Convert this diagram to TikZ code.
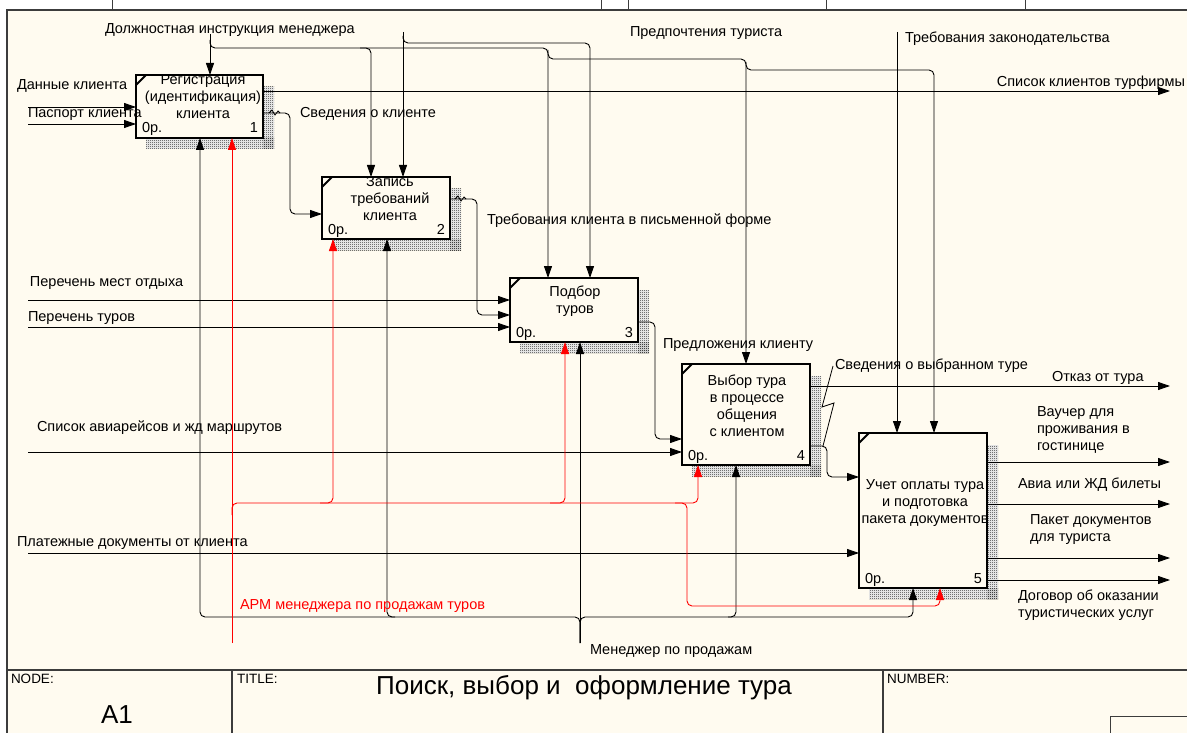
\documentclass[tikz,border=0pt]{standalone}
\usepackage{fontspec}
\setmainfont{Liberation Sans}
\usetikzlibrary{arrows.meta,patterns}

% fine checkerboard used for the drop shadows of the activity boxes
\pgfdeclarepatternformonly{finechecker}{\pgfqpoint{0pt}{0pt}}{\pgfqpoint{2pt}{2pt}}{\pgfqpoint{2pt}{2pt}}{%
  \pgfpathrectangle{\pgfqpoint{0pt}{0pt}}{\pgfqpoint{1pt}{1pt}}%
  \pgfpathrectangle{\pgfqpoint{1pt}{1pt}}{\pgfqpoint{1pt}{1pt}}%
  \pgfusepath{fill}}

\definecolor{paper}{RGB}{255,251,240}
\definecolor{rulec}{RGB}{60,60,60}

% activity box: name, x, y (top left), width, height, number
\newcommand\actbox[6]{%
  \fill[white] ({#2+#4},{#3+12}) rectangle ({#2+#4+11},{#3+#5+11});
  \fill[white] ({#2+10},{#3+#5}) rectangle ({#2+#4+11},{#3+#5+11});
  \fill[shadowfill] ({#2+#4},{#3+12}) rectangle ({#2+#4+11},{#3+#5+11});
  \fill[shadowfill] ({#2+10},{#3+#5}) rectangle ({#2+#4+11},{#3+#5+11});
  \node[act, minimum width=#4pt, minimum height=#5pt] (#1) at (#2,#3) {};
  \node[anchor=base west] (#1z) at ([xshift=6pt,yshift=5pt]#1.south west) {0р.};
  \node[anchor=base east] (#1n) at ([xshift=-5pt,yshift=5pt]#1.south east) {#6};
}
% border and corner mark drawn over the box text
\newcommand\actborder[1]{%
  \draw[line width=2.4pt] (#1.north west) rectangle (#1.south east);
  \draw[line width=2pt] ([yshift=-10pt]#1.north west) -- ([xshift=10pt]#1.north west);
}

\begin{document}
\begin{tikzpicture}[x=1pt,y=-1pt,
  every node/.style={inner sep=0pt, outer sep=0pt, font=\fontsize{14.5}{17}\selectfont},
  lbl/.style={anchor=west, align=left},
  act/.style={draw, line width=2.4pt, fill=paper, anchor=north west},
  acttext/.style={align=center},
  shadowfill/.style={pattern=finechecker, pattern color=black!85},
  wire/.style={line width=0.9pt, rounded corners=5pt},
  flow/.style={wire, -{Triangle[length=12pt,width=8pt]}},
  redflow/.style={flow, red},
  tbl/.style={font=\fontsize{13.5}{15}\selectfont, anchor=north west},
  big/.style={font=\fontsize{26}{28}\selectfont},
]
\useasboundingbox (0,0) rectangle (1187,733);
\fill[white] (0,0) rectangle (1187,733);
\fill[paper] (7,10) rectangle (1187,733);

% ---- frame ----
\draw[rulec, line width=1.2pt] (7,733) -- (7,10) -- (1187,10);
\foreach \t in {112,601,628,826,1025} \draw[rulec, line width=1pt] (\t,0) -- (\t,10);
\draw[rulec, line width=1.2pt] (7,670) -- (1187,670);
\draw[rulec, line width=1.2pt] (232,670) -- (232,733);
\draw[rulec, line width=1.2pt] (883,670) -- (883,733);
\draw[rulec, line width=1pt] (1110,733) -- (1110,716) -- (1187,716);
\node[tbl] (nodelbl) at (11,674) {NODE:};
\node[tbl] (titlelbl) at (237,674) {TITLE:};
\node[tbl] (numlbl) at (887,674) {NUMBER:};
\node[big] (nodeid) at (117,715) {A1};
\node[big] (title) at (584,688) {Поиск, выбор и\ \ оформление тура};

% ---- activity boxes ----
\actbox{b1}{136}{75}{127}{63}{1}
\actbox{b2}{322}{177}{128}{62}{2}
\actbox{b3}{510}{278}{128}{64}{3}
\actbox{b4}{682}{364}{128}{101}{4}
\actbox{b5}{859}{433}{128}{155}{5}

\node[acttext] (t1) at (203,97) {Регистрация\\(идентификация)\\клиента};
\node[acttext] (t2) at (390,199) {Запись\\требований\\клиента};
\node[acttext] (t3) at (575,301) {Подбор\\туров};
\node[acttext] (t4) at (747,405.5) {Выбор тура\\в процессе\\общения\\с клиентом};
\node[acttext] (t5) at (925,503) {Учет оплаты тура\\и подготовка\\пакета документов};

\foreach \b in {b1,b2,b3,b4,b5} {\actborder{\b}}

% ---- controls ----
\draw[flow] (210,34) -- (210,0 |- b1.north);
\draw[flow] (210,40) |- (371,48) -- (371,0 |- b2.north);
\draw[flow] (360,48) -| (548,0 |- b3.north);
\draw[flow] (548,50) |- (746,59) -- (746,0 |- b4.north);
\draw[flow] (746,62) |- (934,70) -- (934,0 |- b5.north);
\draw[flow] (403,32) -- (403,0 |- b2.north);
\draw[flow] (403,36) |- (590,43) -- (590,0 |- b3.north);
\draw[flow] (897,32) -- (897,0 |- b5.north);

% ---- inputs ----
\draw[flow] (28,107) -- (b1.west |- 0,107);
\draw[flow] (28,124) -- (b1.west |- 0,124);
\draw[flow] (28,300) -- (b3.west |- 0,300);
\draw[flow] (28,327) -- (b3.west |- 0,327);
\draw[flow] (28,452) -- (b4.west |- 0,452);
\draw[flow] (28,553) -- (b5.west |- 0,553);

% ---- outputs and links between boxes ----
\draw[flow] (b1.east |- 0,91) -- (1170,91);
\draw[flow] (b1.east |- 0,113) -| (290,214) -- (b2.west |- 0,214);
\draw[flow] (b2.east |- 0,199) -| (477,315) -- (b3.west |- 0,315);
\draw[flow] (b3.east |- 0,322) -| (655,439) -- (b4.west |- 0,439);
\draw[flow] (b4.east |- 0,386) -- (1170,386);
\draw[flow] (b4.east |- 0,446) -| (827,477) -- (b5.west |- 0,477);
\draw[flow] (b5.east |- 0,462) -- (1170,462);
\draw[flow] (b5.east |- 0,504) -- (1170,504);
\draw[flow] (b5.east |- 0,558) -- (1170,558);
\draw[flow] (b5.east |- 0,580) -- (1170,580);

% label squiggles
\draw[line width=0.8pt] (269,113) -- (272,110) -- (275,115) -- (278,111) -- (280,113);
\draw[line width=0.8pt] (455,199) -- (458,196) -- (461,201) -- (464,197) -- (466,199);
\draw[line width=0.8pt] (833,366) -- (822,407) -- (834,403) -- (823,446);

% ---- mechanisms ----
\draw[flow] (580,643) -- (580,617) -| (200,0 |- b1.south);
\draw[flow] (580,643) -- (580,617) -| (913,0 |- b5.south);
\draw[flow] (580,643) -- (580,0 |- b3.south);
\draw[flow] (395,617) -| (387,0 |- b2.south);
\draw[flow] (728,617) -| (736,0 |- b4.south);

\draw[redflow] (232,643) -- (232,0 |- b1.south);
\draw[redflow] (232,515) |- (333,503) -- (333,0 |- b2.south);
\draw[redflow] (320,503) -| (565,0 |- b3.south);
\draw[redflow] (550,503) -| (698,0 |- b4.south);
\draw[redflow] (675,503) -| (687,606) -| (940,0 |- b5.south);

% ---- arrow labels ----
\node[lbl] (l1) at (105,30) {Должностная инструкция менеджера};
\node[lbl] (l2) at (630,33) {Предпочтения туриста};
\node[lbl] (l3) at (905,39) {Требования законодательства};
\node[lbl, anchor=east] (l4) at (1185,83) {Список клиентов турфирмы};
\node[lbl] (l5) at (17,86) {Данные клиента};
\node[lbl] (l6) at (28,114) {Паспорт клиента};
\node[lbl] (l7) at (300,114) {Сведения о клиенте};
\node[lbl] (l8) at (487,221) {Требования клиента в письменной форме};
\node[lbl] (l9) at (30,283) {Перечень мест отдыха};
\node[lbl] (l10) at (28,318) {Перечень туров};
\node[lbl] (l11) at (663,345) {Предложения клиенту};
\node[lbl] (l12) at (835,366) {Сведения о выбранном туре};
\node[lbl] (l13) at (1052,378) {Отказ от тура};
\node[lbl] (l14) at (1037,430) {Ваучер для\\проживания в\\гостинице};
\node[lbl] (l15) at (37,428) {Список авиарейсов и жд маршрутов};
\node[lbl] (l16) at (1018,485) {Авиа или ЖД билеты};
\node[lbl] (l17) at (1030,529.5) {Пакет документов\\для туриста};
\node[lbl] (l18) at (17,543) {Платежные документы от клиента};
\node[lbl] (l19) at (1018,605.5) {Договор об оказании\\туристических услуг};
\node[lbl, red] (l20) at (240,606) {АРМ менеджера по продажам туров};
\node[lbl] (l21) at (590,651) {Менеджер по продажам};
\end{tikzpicture}
\end{document}
